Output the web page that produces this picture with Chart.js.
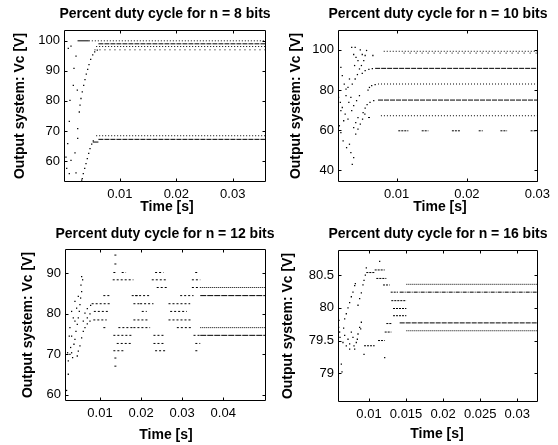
<!DOCTYPE html>
<html>
<head>
<meta charset="utf-8">
<script src="https://cdn.jsdelivr.net/npm/chart.js@4.4.1/dist/chart.umd.min.js"></script>
<style>
  html, body { margin: 0; padding: 0; background: #fff; }
  #wrap { position: relative; width: 558px; height: 445px; overflow: hidden; }
  #wrap canvas { position: absolute; left: 0; top: 0; }
</style>
</head>
<body>
<div id="wrap">
  <canvas id="c8" width="558" height="445"></canvas>
  <canvas id="c10" width="558" height="445"></canvas>
  <canvas id="c12" width="558" height="445"></canvas>
  <canvas id="c16" width="558" height="445"></canvas>
</div>
<script>
// --- DADOS: n = 8 bits ---
const n8XTicks = [0.01, 0.02, 0.03];
const n8XLabels = ['0.01', '0.02', '0.03'];
const n8YTicks = [60, 70, 80, 90, 100];
const n8YLabels = ['60', '70', '80', '90', '100'];
const n8XRange = [0.0001, 0.0359];
const n8YRange = [53, 103.6];
const n8Dots = [
  [0.00086, 97.5], [0.00134, 98.2], [0.00223, 94.9], [0.00187, 90.8], [0.00175, 85.2],
  [0.00116, 80.2], [0.00246, 83.6], [0.00104, 73.2], [0.00253, 70.8], [0.00253, 67.5],
  [0.00076, 65.8], [0.00205, 62.7], [0.00045, 61.3], [0.00134, 60.2], [0.00058, 57.5],
  [0.00104, 55.8], [0.00223, 56.0],
  [0.00281, 76.3], [0.00294, 78.6], [0.00311, 80.8], [0.00334, 83.0], [0.00359, 85.2],
  [0.00382, 87.1], [0.00405, 88.9], [0.0043, 90.5], [0.00453, 92.1], [0.00483, 93.8],
  [0.00519, 95.3], [0.00554, 96.3], [0.0060, 96.9],
  [0.00324, 53.6], [0.00334, 54.1], [0.00352, 55.8], [0.00377, 57.5], [0.0040, 59.1],
  [0.00423, 60.8], [0.00448, 62.5], [0.00471, 64.1], [0.00501, 65.6], [0.00529, 66.7]
];
const n8Solid = [[0.0025, 0.0045, 100], [0.0052, 0.0062, 66.3]];
const n8Dense = [[0.0062, 0.0359, 99.0], [0.0062, 0.0359, 67.2]];
const n8Dotted = [[0.0045, 0.0359, 100], [0.0058, 0.0359, 98.1], [0.0058, 0.0359, 68.4]];
const n8Sparse = [[0.0055, 0.0359, 97.0]];

// --- DADOS: n = 10 bits ---
const n10XTicks = [0.01, 0.02, 0.03];
const n10XLabels = ['0.01', '0.02', '0.03'];
const n10YTicks = [40, 60, 80, 100];
const n10YLabels = ['40', '60', '80', '100'];
const n10XRange = [0.00167, 0.0301];
const n10YRange = [34.2, 109.9];
const n10Dots = [
  [0.00362, 101.3], [0.00411, 101.3], [0.0039, 97.7], [0.00423, 96.3], [0.00451, 94.7],
  [0.00403, 92.2], [0.00472, 90.5], [0.005, 92.2], [0.00533, 94.7], [0.00553, 97.2],
  [0.00573, 99.7], [0.00512, 97.7], [0.00484, 100],
  [0.00208, 91.3], [0.00228, 87.2], [0.00256, 83], [0.00281, 80.5],
  [0.00175, 76.3], [0.002, 73.8], [0.00228, 71.3], [0.00269, 68], [0.00309, 65.5],
  [0.00208, 69.7], [0.00248, 64.7],
  [0.00187, 62.2], [0.00208, 58.8], [0.0024, 54.7], [0.00289, 51.3], [0.0035, 48.8],
  [0.0039, 46.3], [0.0037, 43], [0.0033, 53],
  [0.00419, 58], [0.00451, 60.5], [0.00484, 63], [0.00516, 65.5], [0.00549, 68],
  [0.0039, 61.3], [0.00419, 63.8], [0.00451, 66.3], [0.00362, 69.7], [0.0039, 72.2],
  [0.00431, 74.7], [0.00472, 77.2], [0.00321, 73.8], [0.0035, 76.3], [0.00281, 77.2],
  [0.0037, 83], [0.00411, 85.5], [0.00443, 87.7], [0.0033, 85.5], [0.00309, 81.3],
  [0.00512, 88.3], [0.00553, 89.7], [0.00606, 90.3], [0.00655, 90.7],
  [0.00594, 80], [0.00614, 81.3], [0.00646, 82.2], [0.00695, 82.7],
  [0.00524, 68.8], [0.00553, 71], [0.00581, 72.7], [0.00622, 73.8], [0.00675, 74.7],
  [0.00663, 97.2]
];
const n10Solid = [[0.00594, 0.00622, 66.3]];
const n10Dense = [[0.00695, 0.0301, 90.8], [0.00736, 0.0301, 75.0]];
const n10Dotted = [[0.00817, 0.0301, 99.3], [0.00736, 0.0301, 83.0], [0.00777, 0.0301, 67.2]];
const n10Sparse = [[0.011, 0.0301, 98.4]];
const n10Dashes = [
  [0.01024, 0.01167, 59.7], [0.01357, 0.01452, 59.7], [0.01786, 0.01905, 59.7],
  [0.02167, 0.02224, 59.7], [0.02476, 0.02571, 59.7], [0.02905, 0.0301, 59.7]
];

// --- DADOS: n = 12 bits ---
const n12XTicks = [0.01, 0.02, 0.03, 0.04];
const n12XLabels = ['0.01', '0.02', '0.03', '0.04'];
const n12YTicks = [60, 70, 80, 90];
const n12YLabels = ['60', '70', '80', '90'];
const n12XRange = [0.00148, 0.0504];
const n12YRange = [58.5, 96];
const n12Dots = [
  [0.00187, 61.1], [0.00228, 65.1], [0.00228, 68.4], [0.00268, 70], [0.00285, 71.7],
  [0.00211, 70.4], [0.00333, 69.2], [0.00366, 72.5], [0.0039, 73.7], [0.00309, 74.5],
  [0.00415, 75.7], [0.00447, 77.4], [0.0039, 78.2], [0.00472, 79], [0.00496, 80.6],
  [0.00431, 81.4], [0.00512, 82.3], [0.00528, 83.9], [0.00472, 84.3], [0.00553, 85.5],
  [0.00537, 87.1], [0.00577, 88.4], [0.00553, 89.2], [0.0039, 83.1], [0.00309, 80.6],
  [0.0035, 79], [0.00268, 76.6], [0.00252, 74.5], [0.00472, 70.8], [0.00512, 72.1],
  [0.00553, 74.1], [0.00593, 75.7], [0.00593, 78.2], [0.00309, 70.4], [0.00447, 69.6],
  [0.00634, 80.2], [0.00691, 81.3], [0.00772, 82.1],
  [0.00691, 79], [0.00756, 80],
  [0.00634, 76.6], [0.00691, 77.5], [0.00756, 78.2]
];
const n12Dense = [[0.0344, 0.0504, 84.5], [0.0344, 0.0504, 74.7]];
const n12Dotted = [[0.0344, 0.0504, 86.5], [0.0344, 0.0504, 76.6]];
const n12Dashes = [
  [0.00797, 0.01244, 82.5], [0.0085, 0.0122, 80.6], [0.00837, 0.01163, 78.5],
  [0.0135, 0.01407, 94.5], [0.0135, 0.01423, 92.3], [0.01325, 0.0139, 90.2], [0.01528, 0.01634, 90.2],
  [0.01309, 0.01813, 88.4], [0.01081, 0.01244, 84.5], [0.01772, 0.01935, 84.5],
  [0.01813, 0.01976, 82.5], [0.02016, 0.02138, 80.6], [0.01813, 0.02179, 78.5],
  [0.01081, 0.01163, 76.6], [0.01447, 0.01813, 76.6], [0.01813, 0.0222, 76.6],
  [0.01325, 0.01772, 74.7], [0.01407, 0.01772, 72.7], [0.01325, 0.0161, 70.9],
  [0.0135, 0.01407, 69.1], [0.0135, 0.01407, 67.1],
  [0.02341, 0.02545, 90.2], [0.0226, 0.02626, 88.4], [0.0238, 0.02626, 86.5],
  [0.01854, 0.0222, 84.5], [0.01976, 0.02301, 82.5], [0.02301, 0.02545, 74.7],
  [0.02301, 0.02545, 72.7], [0.02341, 0.02585, 70.9],
  [0.03317, 0.03398, 90.2], [0.03236, 0.0344, 88.4], [0.03236, 0.0344, 86.5],
  [0.02951, 0.03276, 84.5], [0.02667, 0.03195, 82.5], [0.02707, 0.03114, 80.6],
  [0.02667, 0.03236, 78.5], [0.0287, 0.03236, 76.6], [0.03276, 0.0344, 74.7],
  [0.0332, 0.0344, 72.7], [0.0332, 0.0340, 70.9]
];

// --- DADOS: n = 16 bits ---
const n16XTicks = [0.01, 0.015, 0.02, 0.025, 0.03];
const n16XLabels = ['0.01', '0.015', '0.02', '0.025', '0.03'];
const n16YTicks = [79, 79.5, 80, 80.5];
const n16YLabels = ['79', '79.5', '80', '80.5'];
const n16XRange = [0.00582, 0.0328];
const n16YRange = [78.56, 80.885];
const n16Dots = [
  [0.00595, 79.81], [0.00591, 79.70], [0.00604, 79.63], [0.00609, 79.55], [0.00627, 79.14],
  [0.00636, 79.02], [0.00658, 79.69], [0.00649, 79.47],
  [0.00672, 79.83], [0.00694, 79.91], [0.00717, 80.0], [0.00739, 80.08], [0.00762, 80.17],
  [0.00784, 80.24], [0.00807, 80.34], [0.00816, 80.37],
  [0.00852, 80.04], [0.00874, 80.14], [0.00897, 80.23], [0.00919, 80.35], [0.00933, 80.42],
  [0.00951, 80.5], [0.00964, 80.61], [0.01144, 80.71], [0.01212, 79.24], [0.00933, 79.29],
  [0.00672, 79.58], [0.00717, 79.52], [0.00739, 79.45], [0.00762, 79.63], [0.00784, 79.55],
  [0.00807, 79.37], [0.00829, 79.47], [0.00852, 79.60], [0.00874, 79.70], [0.00897, 79.78],
  [0.00694, 79.42], [0.00739, 79.37], [0.00798, 79.42], [0.00843, 79.52], [0.00888, 79.68]
];
const n16Dense = [[0.01414, 0.0328, 79.77]];
const n16Dotted = [[0.01504, 0.0328, 80.36], [0.01504, 0.0328, 79.65]];
const n16DashDot = [[0.01414, 0.0328, 80.24]];
const n16Dashes = [
  [0.00964, 0.01077, 80.54], [0.01077, 0.01212, 80.58], [0.01099, 0.01234, 80.45],
  [0.01189, 0.01279, 80.35], [0.01293, 0.01391, 80.24], [0.01301, 0.01504, 80.11],
  [0.01324, 0.01504, 79.99], [0.01324, 0.01504, 79.88], [0.01234, 0.01302, 79.76],
  [0.01212, 0.01302, 79.63], [0.00933, 0.01077, 79.42], [0.01122, 0.01212, 79.5]
];

// --- ESTILO ---
const FONT = '"Liberation Sans", Arial, Helvetica, sans-serif';

function segmentData(list) {
  const out = [];
  list.forEach(([x1, x2, y]) => {
    out.push({ x: x1, y: y }, { x: x2, y: y }, { x: null, y: null });
  });
  return out;
}

function lineSet(list, dash) {
  return {
    data: segmentData(list), showLine: true, spanGaps: false,
    borderColor: '#000', borderWidth: 1, borderDash: dash,
    pointRadius: 0, pointHoverRadius: 0
  };
}

function dotSet(list) {
  return {
    data: list.map(([x, y]) => ({ x, y })), showLine: false,
    pointStyle: 'rect', pointRadius: 0.9, borderWidth: 0,
    backgroundColor: '#000', pointHoverRadius: 0
  };
}

// caixa estilo MATLAB com ticks para dentro e textos
const matlabFrame = {
  id: 'matlabFrame',
  afterDraw(chart, args, o) {
    const { ctx, chartArea: a, scales } = chart;
    const L = Math.round(a.left) + 0.5, R = Math.round(a.right) - 0.5;
    const T = Math.round(a.top) + 0.5, B = Math.round(a.bottom) - 0.5;
    ctx.save();
    ctx.strokeStyle = '#000';
    ctx.lineWidth = 1;
    ctx.beginPath();
    ctx.rect(L, T, R - L, B - T);
    scales.x.ticks.forEach(t => {
      const px = Math.round(scales.x.getPixelForValue(t.value)) + 0.5;
      ctx.moveTo(px, B); ctx.lineTo(px, B - 3);
      ctx.moveTo(px, T); ctx.lineTo(px, T + 3);
    });
    scales.y.ticks.forEach(t => {
      const py = Math.round(scales.y.getPixelForValue(t.value)) + 0.5;
      ctx.moveTo(L, py); ctx.lineTo(L + 3, py);
      ctx.moveTo(R, py); ctx.lineTo(R - 3, py);
    });
    ctx.stroke();

    ctx.fillStyle = '#000';
    ctx.font = 'bold 14px ' + FONT;
    ctx.textAlign = 'center';
    ctx.textBaseline = 'alphabetic';
    ctx.fillText(o.title, o.titleAt[0], o.titleAt[1]);
    ctx.fillText('Time [s]', o.xLabelAt[0], o.xLabelAt[1]);
    ctx.translate(o.yLabelAt[0], o.yLabelAt[1]);
    ctx.rotate(-Math.PI / 2);
    ctx.textBaseline = 'middle';
    ctx.fillText('Output system: Vc [V]', 0, 0);
    ctx.restore();
  }
};

function makePanel(id, p) {
  const [L, T, R, B] = p.box;
  return new Chart(document.getElementById(id), {
    type: 'scatter',
    data: { datasets: p.datasets },
    plugins: [matlabFrame],
    options: {
      responsive: false,
      animation: false,
      events: [],
      layout: { autoPadding: false, padding: { left: 0, top: T, right: 558 - R, bottom: 0 } },
      plugins: {
        legend: { display: false },
        tooltip: { enabled: false },
        matlabFrame: p.text
      },
      scales: {
        x: {
          type: 'linear', min: p.xRange[0], max: p.xRange[1],
          grid: { display: false, drawTicks: false, tickLength: 0 }, border: { display: false },
          afterBuildTicks: s => { s.ticks = p.xTicks.map(v => ({ value: v })); },
          afterFit: s => { s.height = 445 - B; },
          ticks: {
            autoSkip: false, maxRotation: 0, minRotation: 0, padding: 5,
            color: '#000', font: { family: FONT, size: 13 },
            callback: (v, i) => p.xLabels[i]
          }
        },
        y: {
          type: 'linear', min: p.yRange[0], max: p.yRange[1],
          grid: { display: false, drawTicks: false, tickLength: 0 }, border: { display: false },
          afterBuildTicks: s => { s.ticks = p.yTicks.map(v => ({ value: v })); },
          afterFit: s => { s.width = L; },
          ticks: {
            autoSkip: false, padding: 4,
            color: '#000', font: { family: FONT, size: 13 },
            callback: (v, i) => p.yLabels[i]
          }
        }
      }
    }
  });
}

makePanel('c8', {
  box: [64, 30, 266, 182],
  xRange: n8XRange, yRange: n8YRange,
  xTicks: n8XTicks, xLabels: n8XLabels, yTicks: n8YTicks, yLabels: n8YLabels,
  datasets: [
    lineSet(n8Solid, []), lineSet(n8Dense, [5, 1]), lineSet(n8Dotted, [1, 2]),
    lineSet(n8Sparse, [1, 4]), dotSet(n8Dots)
  ],
  text: { title: 'Percent duty cycle for n = 8 bits', titleAt: [165, 18], xLabelAt: [167, 211], yLabelAt: [20, 106] }
});

makePanel('c10', {
  box: [338, 30, 538, 182],
  xRange: n10XRange, yRange: n10YRange,
  xTicks: n10XTicks, xLabels: n10XLabels, yTicks: n10YTicks, yLabels: n10YLabels,
  datasets: [
    lineSet(n10Solid, []), lineSet(n10Dense, [5, 1]), lineSet(n10Dotted, [1, 2]),
    lineSet(n10Sparse, [1, 5]), lineSet(n10Dashes, [2, 1]), dotSet(n10Dots)
  ],
  text: { title: 'Percent duty cycle for n = 10 bits', titleAt: [438, 18], xLabelAt: [440, 211], yLabelAt: [296, 106] }
});

makePanel('c12', {
  box: [65, 249, 266, 401],
  xRange: n12XRange, yRange: n12YRange,
  xTicks: n12XTicks, xLabels: n12XLabels, yTicks: n12YTicks, yLabels: n12YLabels,
  datasets: [
    lineSet(n12Dense, [6, 1]), lineSet(n12Dotted, [1, 1]), lineSet(n12Dashes, [2, 2]),
    dotSet(n12Dots)
  ],
  text: { title: 'Percent duty cycle for n = 12 bits', titleAt: [165, 238], xLabelAt: [166, 439], yLabelAt: [28, 325] }
});

makePanel('c16', {
  box: [338, 250, 538, 402],
  xRange: n16XRange, yRange: n16YRange,
  xTicks: n16XTicks, xLabels: n16XLabels, yTicks: n16YTicks, yLabels: n16YLabels,
  datasets: [
    lineSet(n16Dense, [5, 1]), lineSet(n16Dotted, [1, 1]), lineSet(n16DashDot, [4, 1, 1, 1]),
    lineSet(n16Dashes, [2, 1]), dotSet(n16Dots)
  ],
  text: { title: 'Percent duty cycle for n = 16 bits', titleAt: [438, 238], xLabelAt: [437, 438], yLabelAt: [288, 326] }
});
</script>
</body>
</html>
